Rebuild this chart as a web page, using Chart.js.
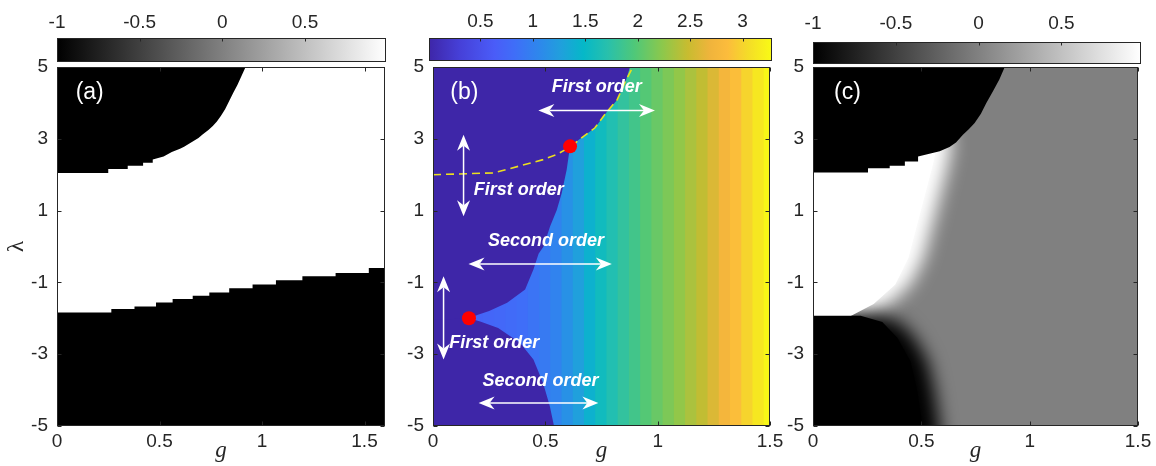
<!DOCTYPE html>
<html>
<head>
<meta charset="utf-8">
<script src="https://cdn.jsdelivr.net/npm/chart.js@4.4.1/dist/chart.umd.min.js"></script>
<style>
html, body { margin: 0; padding: 0; background: #fff; }
#wrap { position: relative; width: 1156px; height: 466px; overflow: hidden; }
#wrap canvas { position: absolute; left: 0; top: 0; }
</style>
</head>
<body>
<div id="wrap">
  <canvas id="cbA" width="1156" height="466"></canvas>
  <canvas id="cbB" width="1156" height="466"></canvas>
  <canvas id="cbC" width="1156" height="466"></canvas>
  <canvas id="plotA" width="1156" height="466"></canvas>
  <canvas id="plotB" width="1156" height="466"></canvas>
  <canvas id="softC" width="1156" height="466"></canvas>
  <canvas id="plotC" width="1156" height="466"></canvas>
</div>
<script>
// colour bars
const grayTicks = [-1, -0.5, 0, 0.5];
const grayRangeA = [-1, 0.99];
const grayRangeC = [-1, 0.98];
const parulaTicks = [0.5, 1, 1.5, 2, 2.5, 3];
const parulaRange = [0.01, 3.28];

// axes
const lamTicks = [-5, -3, -1, 1, 3, 5];
const gTicks = [0, 0.5, 1, 1.5];

// (a) edges of the two black regions (g, lambda)
const aTopEdgeG   = [0, 0.25, 0.25, 0.345, 0.345, 0.42, 0.42, 0.467, 0.467, 0.52, 0.56, 0.6, 0.62, 0.66, 0.69, 0.71, 0.74, 0.76, 0.78, 0.8, 0.82, 0.84, 0.86, 0.88, 0.9, 0.92];
const aTopEdgeLam = [2.05, 2.05, 2.16, 2.16, 2.25, 2.25, 2.33, 2.33, 2.42, 2.51, 2.63, 2.72, 2.78, 2.92, 3.02, 3.12, 3.25, 3.36, 3.48, 3.64, 3.82, 4.05, 4.28, 4.5, 4.75, 5.0];
const aLowEdgeG   = [0, 0.265, 0.378, 0.483, 0.564, 0.662, 0.743, 0.84, 0.954, 1.068, 1.197, 1.359, 1.521, 1.57, 1.6];
const aLowEdgeLam = [-1.95, -1.84, -1.74, -1.67, -1.56, -1.46, -1.37, -1.28, -1.16, -1.06, -0.94, -0.83, -0.74, -0.6, -0.6];

// (b) column values of the colour map
const bColG     = [0, 0.05, 0.1, 0.15, 0.2, 0.25, 0.3, 0.35, 0.4, 0.45, 0.5, 0.55, 0.6, 0.65, 0.7, 0.75, 0.8, 0.85, 0.9, 0.95, 1, 1.05, 1.1, 1.15, 1.2, 1.25, 1.3, 1.35, 1.4, 1.45, 1.5];
const bColValue = [0.7, 0.7, 0.71, 0.71, 0.72, 0.74, 0.76, 0.79, 0.83, 0.88, 0.94, 1.02, 1.14, 1.27, 1.42, 1.56, 1.67, 1.78, 1.88, 1.99, 2.08, 2.17, 2.26, 2.36, 2.45, 2.58, 2.74, 2.87, 3.0, 3.13, 3.25];
// (b) edges of the low (dark) region
const bUpperEdgeG   = [0, 0.16, 0.2, 0.25, 0.33, 0.41, 0.447, 0.47, 0.492, 0.521, 0.551, 0.573, 0.595, 0.61, 0.67, 0.72, 0.77, 0.82, 0.86, 0.877];
const bUpperEdgeLam = [-2.05, -2.0, -1.9, -1.8, -1.57, -1.2, -0.64, -0.2, 0.0, 0.56, 1.02, 1.49, 2.14, 2.79, 3.07, 3.3, 3.72, 4.09, 4.65, 5.0];
const bLowerEdgeG   = [0, 0.16, 0.21, 0.29, 0.388, 0.447, 0.49, 0.52, 0.536, 0.545];
const bLowerEdgeLam = [-1.95, -2.0, -2.09, -2.27, -2.69, -3.15, -3.8, -4.45, -4.92, -5.2];
// (b) first-order line and the two end points
const bDashG   = [0, 0.27, 0.39, 0.49, 0.55, 0.61, 0.67, 0.72, 0.77, 0.82, 0.86, 0.89];
const bDashLam = [2.0, 2.05, 2.25, 2.42, 2.56, 2.77, 3.07, 3.3, 3.72, 4.09, 4.65, 5.0];
const bDotG   = [0.61, 0.16];
const bDotLam = [2.79, -2.0];

// (c) black top region edge
const cTopEdgeG   = [0, 0.254, 0.254, 0.354, 0.354, 0.424, 0.424, 0.485, 0.485, 0.523, 0.585, 0.63, 0.66, 0.692, 0.72, 0.746, 0.775, 0.8, 0.83, 0.86, 0.885];
const cTopEdgeLam = [2.06, 2.06, 2.18, 2.18, 2.25, 2.25, 2.37, 2.37, 2.51, 2.56, 2.65, 2.77, 2.9, 3.11, 3.27, 3.44, 3.7, 4.0, 4.32, 4.65, 5.0];
// (c) soft white band and soft black lower region, at half fade (tails keep zero height)
const cWhiteG   = [-0.3, 0.24, 0.35, 0.45, 0.51, 0.57, 0.62, 0.64, 2.0];
const cWhiteLow = [-1.93, -1.93, -1.6, -1.06, -0.33, 1.05, 2.2, 2.85, 2.85];
const cWhiteTop = [3.6, 3.6, 3.6, 3.6, 3.6, 3.6, 3.4, 2.85, 2.85];
const cDarkG   = [-0.3, 0.3, 0.4, 0.47, 0.53, 0.56, 0.58, 0.6, 0.62, 2.0];
const cDarkTop = [-1.93, -1.93, -2.1, -2.55, -3.2, -4.0, -4.8, -6.0, -8, -8];
// (c) fully white and fully black cores
const cWhiteCoreG   = [-0.3, 0.17, 0.28, 0.38, 0.44, 0.5, 0.55, 0.58];
const cWhiteCoreLow = [-1.95, -1.95, -1.6, -1.06, -0.33, 1.05, 2.2, 3.0];
const cWhiteCoreTop = 3.0;
const cDarkCoreG   = [-0.3, 0.22, 0.32, 0.39, 0.45, 0.48, 0.5, 0.52];
const cDarkCoreTop = [-1.93, -1.93, -2.1, -2.55, -3.2, -4.0, -4.8, -6.0];

const INK = '#262626';
const TICK_FONT = {family: '"Liberation Sans", Arial, sans-serif', size: 19};
const LABEL_FONT = '23px "Liberation Sans", Arial, sans-serif';
const NOTE_FONT = 'italic bold 18px "Liberation Sans", Arial, sans-serif';

const PARULA = [[0, '#3e26a8'], [0.09, '#4640d8'], [0.19, '#4a5cf8'], [0.25, '#3f6ef8'], [0.32, '#2e87ec'],
  [0.385, '#20a0dc'], [0.45, '#05b8c8'], [0.52, '#28c0ac'], [0.6, '#50c878'], [0.68, '#8cc84c'],
  [0.755, '#c8bc30'], [0.82, '#f0b43c'], [0.87, '#fcbc3c'], [0.93, '#f4dc28'], [1, '#f9fb15']];
const GRAY = [[0, '#000000'], [1, '#ffffff']];

function rgb(h) { return [1, 3, 5].map(i => parseInt(h.slice(i, i + 2), 16)); }
function parula(v) {
  const t = Math.min(1, Math.max(0, (v - parulaRange[0]) / (parulaRange[1] - parulaRange[0])));
  let i = 0;
  while (i < PARULA.length - 2 && PARULA[i + 1][0] < t) i++;
  const [t0, c0] = PARULA[i], [t1, c1] = PARULA[i + 1];
  const f = (t - t0) / (t1 - t0);
  const a = rgb(c0), b = rgb(c1);
  return 'rgb(' + a.map((x, k) => Math.round(x + (b[k] - x) * f)).join(',') + ')';
}
function pts(xs, ys) { return xs.map((x, i) => ({x, y: Array.isArray(ys) ? ys[i] : ys})); }

function drawHead(ctx, x, y, ang) {
  const c = Math.cos(ang), s = Math.sin(ang);
  const p = (u, v) => [x - c * u - s * v, y - s * u + c * v];
  ctx.beginPath();
  ctx.moveTo(x, y);
  ctx.lineTo(...p(16, 6.5));
  ctx.lineTo(...p(11, 0));
  ctx.lineTo(...p(16, -6.5));
  ctx.closePath();
  ctx.fill();
}

Chart.register({
  id: 'plotBg',
  beforeDraw(chart, args, o) {
    if (!o.color) return;
    const {ctx, chartArea: a} = chart;
    ctx.save();
    ctx.fillStyle = o.color;
    ctx.fillRect(a.left, a.top, a.width, a.height);
    ctx.restore();
  }
}, {
  id: 'soften',
  beforeDatasetsDraw(chart, args, o) {
    if (!o.blur) return;
    chart.ctx.save();
    chart.ctx.filter = 'blur(' + o.blur + 'px)';
  },
  afterDatasetsDraw(chart, args, o) {
    if (o.blur) chart.ctx.restore();
  }
}, {
  id: 'frame',
  afterDatasetsDraw(chart, args, o) {
    if (!o.sides) return;
    const {ctx, chartArea: a, scales} = chart;
    const L = Math.round(a.left) + 0.5, R = Math.round(a.right) - 0.5;
    const T = Math.round(a.top) + 0.5, B = Math.round(a.bottom) - 0.5;
    const n = o.len || 4;
    ctx.save();
    ctx.strokeStyle = INK;
    ctx.lineWidth = 1;
    ctx.strokeRect(L, T, R - L, B - T);
    ctx.beginPath();
    const xs = scales.x, ys = scales.y;
    xs.ticks.forEach(t => {
      const p = Math.round(xs.getPixelForValue(t.value)) + 0.5;
      if (o.sides.includes('t')) { ctx.moveTo(p, T); ctx.lineTo(p, T + n); }
      if (o.sides.includes('b')) { ctx.moveTo(p, B); ctx.lineTo(p, B - n); }
    });
    if (ys.type === 'linear') ys.ticks.forEach(t => {
      const p = Math.round(ys.getPixelForValue(t.value)) + 0.5;
      if (o.sides.includes('l')) { ctx.moveTo(L, p); ctx.lineTo(L + n, p); }
      if (o.sides.includes('r')) { ctx.moveTo(R, p); ctx.lineTo(R - n, p); }
    });
    ctx.stroke();
    ctx.restore();
  }
}, {
  id: 'notes',
  afterDatasetsDraw(chart, args, o) {
    const {ctx, scales: {x, y}} = chart;
    ctx.save();
    ctx.strokeStyle = '#fff';
    ctx.fillStyle = '#fff';
    ctx.lineWidth = 1.5;
    (o.arrows || []).forEach(([g1, l1, g2, l2]) => {
      const x1 = x.getPixelForValue(g1), y1 = y.getPixelForValue(l1);
      const x2 = x.getPixelForValue(g2), y2 = y.getPixelForValue(l2);
      const ang = Math.atan2(y2 - y1, x2 - x1);
      ctx.beginPath();
      ctx.moveTo(x1 + Math.cos(ang) * 11, y1 + Math.sin(ang) * 11);
      ctx.lineTo(x2 - Math.cos(ang) * 11, y2 - Math.sin(ang) * 11);
      ctx.stroke();
      drawHead(ctx, x2, y2, ang);
      drawHead(ctx, x1, y1, ang + Math.PI);
    });
    (o.texts || []).forEach(t => {
      ctx.font = t.font;
      ctx.fillStyle = t.color || '#fff';
      ctx.textAlign = t.align || 'center';
      ctx.textBaseline = 'middle';
      ctx.fillText(t.text, x.getPixelForValue(t.g), y.getPixelForValue(t.lam));
    });
    ctx.restore();
  }
});

function gAxis(max) {
  return {
    type: 'linear', position: 'bottom', min: 0, max: max, offset: false,
    grid: {display: false, drawTicks: false}, border: {display: false},
    ticks: {font: TICK_FONT, color: INK, padding: 4, maxRotation: 0, autoSkip: false, callback: v => String(v)},
    title: {display: true, text: 'g', color: INK, font: {family: '"Liberation Serif", serif', style: 'italic', size: 23}, padding: {top: 0, bottom: 1}},
    afterBuildTicks: s => { s.ticks = gTicks.map(v => ({value: v})); },
    afterFit: s => { s.height = 40; s.paddingLeft = 0; s.paddingRight = 0; }
  };
}

function lamAxis(width, withTitle) {
  return {
    type: 'linear', min: -5, max: 5,
    grid: {display: false, drawTicks: false}, border: {display: false},
    ticks: {font: TICK_FONT, color: INK, padding: 9, callback: v => String(v)},
    title: {display: withTitle, text: 'λ', color: INK, font: {family: '"Liberation Serif", serif', size: 23}, padding: {top: 3, bottom: 0}},
    afterBuildTicks: s => { s.ticks = lamTicks.map(v => ({value: v})); },
    afterFit: s => { s.width = width; s.paddingTop = 0; s.paddingBottom = 0; }
  };
}

function hidden(min, max) {
  return {type: 'linear', min, max, display: false};
}

function baseOptions(pad, scales, plugins) {
  return {
    responsive: false, animation: false, devicePixelRatio: 1, events: [],
    layout: {padding: pad},
    scales,
    plugins: Object.assign({legend: {display: false}, tooltip: {enabled: false}}, plugins),
    elements: {point: {radius: 0}, line: {borderWidth: 0, tension: 0}}
  };
}

function region(xs, ys, fill, color, order, stepped) {
  return {type: 'line', data: pts(xs, ys), fill, backgroundColor: color, borderColor: 'transparent',
    borderWidth: 0, pointRadius: 0, stepped: stepped || false, order};
}

function colourBar(id, range, ticks, stops, box, labelPad) {
  const [left, top, right, bottom] = box;
  return new Chart(document.getElementById(id), {
    type: 'bar',
    data: {
      labels: ['c'],
      datasets: [{
        data: [range],
        backgroundColor: c => {
          const ch = c.chart;
          if (!ch.chartArea) return 'transparent';
          const xs = ch.scales.x;
          const gr = ch.ctx.createLinearGradient(xs.getPixelForValue(range[0]), 0, xs.getPixelForValue(range[1]), 0);
          stops.forEach(([t, col]) => gr.addColorStop(t, col));
          return gr;
        },
        borderWidth: 0, barPercentage: 1, categoryPercentage: 1
      }]
    },
    options: Object.assign(baseOptions({left, right: 1156 - right, top: 0, bottom: 466 - bottom}, {
      x: {
        type: 'linear', position: 'top', min: range[0], max: range[1],
        grid: {display: false, drawTicks: false}, border: {display: false},
        ticks: {font: TICK_FONT, color: INK, padding: labelPad, maxRotation: 0, autoSkip: false, callback: v => String(v)},
        afterBuildTicks: s => { s.ticks = ticks.map(v => ({value: v})); },
        afterFit: s => { s.height = top; s.paddingLeft = 0; s.paddingRight = 0; }
      },
      y: {type: 'category', display: false}
    }, {frame: {sides: 't', len: 3}}), {indexAxis: 'y'})
  });
}

colourBar('cbA', grayRangeA, grayTicks, GRAY, [57, 38, 386, 62], 4);
colourBar('cbB', parulaRange, parulaTicks, PARULA, [429, 38, 772, 61], 5);
colourBar('cbC', grayRangeC, grayTicks, GRAY, [813, 42, 1141, 64], 7);

// (a)
new Chart(document.getElementById('plotA'), {
  type: 'line',
  data: {datasets: [
    region(aTopEdgeG, aTopEdgeLam, 'end', '#000', 0),
    region(aLowEdgeG, aLowEdgeLam, 'start', '#000', 1, 'after')
  ]},
  options: baseOptions({left: 0, top: 67, right: 771, bottom: 0}, {x: gAxis(1.6), y: lamAxis(57, true)}, {
    plotBg: {color: '#fff'},
    frame: {sides: 'tblr'},
    notes: {texts: [{text: '(a)', g: 0.091, lam: 4.28, font: LABEL_FONT, align: 'left'}]}
  })
});

// (b)
new Chart(document.getElementById('plotB'), {
  type: 'line',
  data: {datasets: [
    {type: 'line', data: pts(bDotG, bDotLam), showLine: false, pointRadius: 7, pointBackgroundColor: '#ff0000',
      pointBorderWidth: 0, order: 0},
    {type: 'line', data: pts(bDashG, bDashLam), borderColor: '#ecdf1e', borderWidth: 1.6, borderDash: [8, 5],
      pointRadius: 0, fill: false, order: 1},
    region(bUpperEdgeG, bUpperEdgeLam, 'end', PARULA[0][1], 2),
    region(bLowerEdgeG, bLowerEdgeLam, 'start', PARULA[0][1], 3),
    {type: 'bar', data: bColG.map(g => ({x: g, y: [-5, 5]})), backgroundColor: bColValue.map(parula),
      borderWidth: 0, barPercentage: 1.12, categoryPercentage: 1, order: 4}
  ]},
  options: baseOptions({left: 393, top: 67, right: 386, bottom: 0}, {x: gAxis(1.5), y: lamAxis(40, false)}, {
    frame: {sides: 'tblr'},
    notes: {
      arrows: [
        [0.469, 3.79, 0.988, 3.79],
        [0.136, 3.11, 0.136, 0.84],
        [0.158, -0.49, 0.796, -0.49],
        [0.047, -0.83, 0.047, -3.15],
        [0.203, -4.36, 0.736, -4.36]
      ],
      texts: [
        {text: '(b)', g: 0.077, lam: 4.28, font: LABEL_FONT, align: 'left'},
        {text: 'First order', g: 0.729, lam: 4.44, font: NOTE_FONT},
        {text: 'First order', g: 0.382, lam: 1.58, font: NOTE_FONT},
        {text: 'Second order', g: 0.503, lam: 0.14, font: NOTE_FONT},
        {text: 'First order', g: 0.273, lam: -2.69, font: NOTE_FONT},
        {text: 'Second order', g: 0.479, lam: -3.76, font: NOTE_FONT}
      ]
    }
  })
});

// (c) soft layer
new Chart(document.getElementById('softC'), {
  type: 'line',
  data: {datasets: [
    region(cDarkG, cDarkTop, {value: -8}, '#000', 0),
    region(cWhiteG, cWhiteTop, 2, '#fff', 1),
    region(cWhiteG, cWhiteLow, false, 'transparent', 2)
  ]},
  options: baseOptions({left: 813, top: 67, right: 18, bottom: 40}, {x: hidden(0, 1.5), y: hidden(-5, 5)}, {
    plotBg: {color: '#808080'},
    soften: {blur: 9}
  })
});

// (c) sharp layer
new Chart(document.getElementById('plotC'), {
  type: 'line',
  data: {datasets: [
    region(cTopEdgeG, cTopEdgeLam, 'end', '#000', 0),
    region(cDarkCoreG, cDarkCoreTop, {value: -8}, '#000', 1),
    region(cWhiteCoreG, cWhiteCoreTop, 3, '#fff', 2),
    region(cWhiteCoreG, cWhiteCoreLow, false, 'transparent', 3)
  ]},
  options: baseOptions({left: 773, top: 67, right: 18, bottom: 0}, {x: gAxis(1.5), y: lamAxis(40, false)}, {
    frame: {sides: 'tblr'},
    notes: {texts: [{text: '(c)', g: 0.097, lam: 4.28, font: LABEL_FONT, align: 'left'}]}
  })
});
</script>
</body>
</html>
